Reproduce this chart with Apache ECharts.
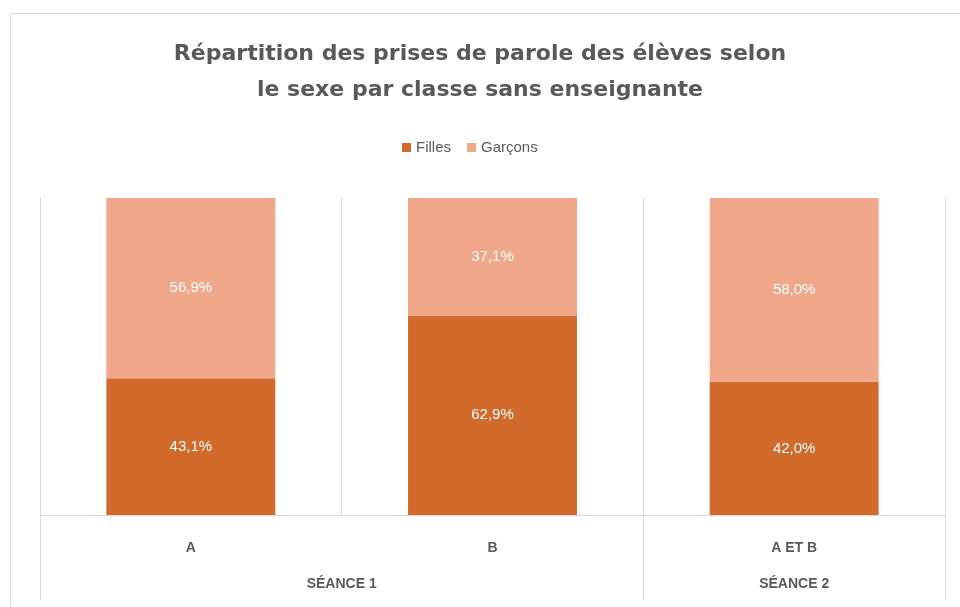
<!DOCTYPE html>
<html>
<head>
<meta charset="utf-8">
<script src="https://cdn.jsdelivr.net/npm/echarts@6/dist/echarts.min.js"></script>
<style>
  html, body { margin: 0; padding: 0; background: #fff; }
  #chart { width: 960px; height: 607px; }
</style>
</head>
<body>
<div id="chart"></div>
<script>
// catégories et groupes
var classes = ['A', 'B', 'A ET B']
var seances = ['SÉANCE 1', 'SÉANCE 2']
var seancePos = [1, 2.5]  // centre de chaque groupe sur l'axe 0..3
var filles = [43.1, 62.9, 42.0]
var garcons = [56.9, 37.1, 58.0]

var grey = '#595959'
var lineCol = '#d9d9d9'
var font = '"Liberation Sans Narrow", "Liberation Sans", sans-serif'

var chart = echarts.init(document.getElementById('chart'))

function pct(p) {
  return p.value.toFixed(1).replace('.', ',') + '%'
}

chart.setOption({
  animation: false,
  title: {
    text: 'Répartition des prises de parole des élèves selon\nle sexe par classe sans enseignante',
    left: 'center',
    top: 31,
    textStyle: {
      fontFamily: '"DejaVu Sans", sans-serif',
      fontSize: 22,
      fontWeight: 'bold',
      color: grey,
      lineHeight: 36
    }
  },
  legend: {
    data: ['Filles', 'Garçons'],
    left: 397,
    top: 135,
    itemWidth: 9,
    itemHeight: 9,
    itemGap: 16,
    icon: 'rect',
    textStyle: { fontFamily: font, fontSize: 15, color: grey }
  },
  graphic: [{
    type: 'rect',
    silent: true,
    shape: { x: 10.5, y: 13.5, width: 980, height: 620 },
    style: { fill: 'none', stroke: lineCol, lineWidth: 1 }
  }],
  grid: { left: 40, right: 15, top: 198, bottom: 92 },
  xAxis: [{
    type: 'category',
    data: classes,
    axisLine: { lineStyle: { color: lineCol } },
    axisTick: {
      show: true,
      length: 85,
      interval: function (i) { return i !== 1 },
      lineStyle: { color: lineCol }
    },
    splitLine: { show: true, lineStyle: { color: lineCol } },
    axisLabel: {
      margin: 26,
      fontFamily: font,
      fontSize: 14,
      fontWeight: 'bold',
      color: grey
    }
  }, {
    type: 'value',
    position: 'bottom',
    min: 0,
    max: 3,
    interval: 0.5,
    axisLine: { show: false },
    axisTick: { show: false },
    splitLine: { show: false },
    axisLabel: {
      margin: 62,
      fontFamily: font,
      fontSize: 14,
      fontWeight: 'bold',
      color: grey,
      showMinLabel: true,
      showMaxLabel: true,
      formatter: function (v) {
        var i = seancePos.indexOf(v)
        return i >= 0 ? seances[i] : ''
      }
    }
  }],
  yAxis: {
    type: 'value',
    min: 0,
    max: 100,
    show: false,
    splitLine: { show: false }
  },
  series: [{
    name: 'Filles',
    type: 'bar',
    stack: 'total',
    barWidth: '56%',
    data: filles,
    itemStyle: { color: '#d26a2b' },
    label: {
      show: true,
      formatter: pct,
      color: '#ffffff',
      fontFamily: font,
      fontSize: 15
    }
  }, {
    name: 'Garçons',
    type: 'bar',
    stack: 'total',
    barWidth: '56%',
    data: garcons,
    itemStyle: { color: '#f0a78a' },
    label: {
      show: true,
      formatter: pct,
      color: '#ffffff',
      fontFamily: font,
      fontSize: 15
    }
  }]
})
</script>
</body>
</html>
